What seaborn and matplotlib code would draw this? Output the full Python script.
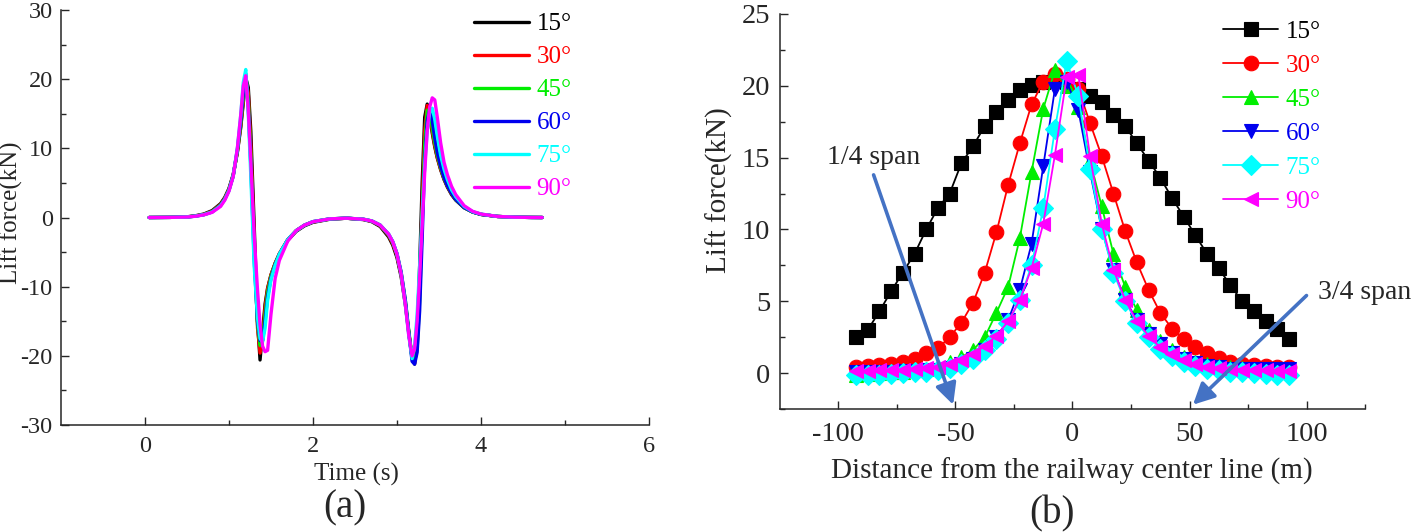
import seaborn as sns
from matplotlib import pyplot as plt
import pandas as pd

# ---- panel (a): lift force time history ----
time_s = [0.05, 0.3, 0.5, 0.6, 0.7, 0.8, 0.9, 0.95, 1.0, 1.05,
          1.1, 1.14, 1.17, 1.2, 1.23, 1.26, 1.3, 1.34, 1.37, 1.4,
          1.43, 1.46, 1.5, 1.55, 1.6, 1.7, 1.8, 1.9, 2.0, 2.2,
          2.4, 2.6, 2.7, 2.8, 2.9, 2.95, 3.0, 3.05, 3.1, 3.14,
          3.18, 3.21, 3.24, 3.27, 3.3, 3.33, 3.36, 3.39, 3.42, 3.45,
          3.48, 3.52, 3.56, 3.6, 3.65, 3.7, 3.8, 3.9, 4.0, 4.2,
          4.4, 4.6, 4.73]

lift_15 = [0.0, 0.02, 0.1, 0.25, 0.5, 1.0, 2.0, 2.9, 4.2, 6.2,
           9.4, 13.0, 16.5, 20.2, 18.8, 12.5, -1.0, -15.0, -20.6, -16.5,
           -12.5, -10.2, -8.3, -6.6, -5.3, -3.3, -2.0, -1.2, -0.7, -0.25,
           -0.1, -0.3, -0.6, -1.3, -2.8, -4.0, -5.8, -8.6, -12.6, -16.6,
           -20.3, -21.2, -17.0, -7.0, 5.0, 14.5, 16.4, 14.6, 12.2, 10.2,
           8.6, 6.9, 5.5, 4.4, 3.3, 2.5, 1.4, 0.8, 0.45, 0.15,
           0.05, 0.01, 0.0]
lift_30 = [0.0, 0.02, 0.09, 0.22, 0.45, 0.9, 1.9, 2.8, 4.1, 6.1,
           9.5, 13.3, 16.9, 20.0, 18.0, 10.5, -3.0, -16.0, -19.6, -17.5,
           -13.0, -10.3, -8.3, -6.6, -5.2, -3.2, -1.9, -1.1, -0.65, -0.22,
           -0.1, -0.28, -0.55, -1.2, -2.6, -3.8, -5.5, -8.3, -12.4, -16.6,
           -20.3, -21.0, -18.5, -10.0, 2.0, 12.5, 16.2, 15.0, 12.5, 10.4,
           8.7, 7.0, 5.6, 4.5, 3.4, 2.6, 1.45, 0.8, 0.45, 0.15,
           0.05, 0.01, 0.0]
lift_45 = [0.0, 0.02, 0.08, 0.2, 0.42, 0.85, 1.8, 2.7, 4.0, 6.0,
           9.6, 13.6, 17.4, 20.4, 17.0, 9.0, -4.5, -15.5, -18.5, -17.8,
           -14.0, -10.8, -8.5, -6.7, -5.3, -3.2, -1.9, -1.1, -0.6, -0.2,
           -0.1, -0.25, -0.5, -1.1, -2.5, -3.6, -5.3, -8.0, -12.0, -16.3,
           -20.2, -20.8, -19.0, -12.0, -0.5, 10.5, 15.5, 15.6, 13.0, 10.8,
           9.0, 7.2, 5.7, 4.6, 3.5, 2.6, 1.45, 0.8, 0.45, 0.15,
           0.05, 0.01, 0.0]
lift_60 = [0.0, 0.02, 0.08, 0.2, 0.4, 0.8, 1.75, 2.65, 3.95, 6.0,
           9.8, 14.0, 18.0, 20.8, 16.0, 7.5, -6.0, -15.0, -17.8, -17.8,
           -15.0, -11.5, -8.8, -6.8, -5.3, -3.2, -1.9, -1.1, -0.6, -0.2,
           -0.1, -0.25, -0.5, -1.1, -2.4, -3.5, -5.2, -7.9, -12.0, -16.5,
           -20.8, -21.2, -19.5, -13.5, -3.0, 8.0, 14.0, 15.6, 14.0, 11.5,
           9.4, 7.4, 5.8, 4.6, 3.5, 2.6, 1.45, 0.8, 0.45, 0.15,
           0.05, 0.01, 0.0]
lift_75 = [0.0, 0.02, 0.08, 0.2, 0.4, 0.8, 1.7, 2.6, 3.9, 6.0,
           10.0, 14.8, 19.5, 21.4, 15.0, 6.0, -7.0, -14.5, -17.5, -18.0,
           -16.0, -12.0, -9.0, -6.9, -5.3, -3.2, -1.9, -1.1, -0.6, -0.2,
           -0.1, -0.25, -0.5, -1.1, -2.4, -3.5, -5.3, -8.2, -12.6, -17.0,
           -20.4, -18.5, -14.0, -7.0, 0.5, 7.5, 12.5, 15.2, 15.8, 14.2,
           11.8, 9.0, 7.0, 5.5, 4.0, 3.0, 1.6, 0.85, 0.5, 0.15,
           0.05, 0.01, 0.0]
lift_90 = [0.0, 0.02, 0.07, 0.18, 0.38, 0.75, 1.6, 2.5, 3.8, 5.9,
           10.0, 14.8, 19.0, 20.5, 15.5, 8.0, -2.5, -10.5, -15.5, -18.6,
           -19.4, -19.2, -14.0, -8.8, -6.2, -3.4, -1.9, -1.1, -0.6, -0.2,
           -0.1, -0.25, -0.5, -1.1, -2.4, -3.5, -5.3, -8.2, -12.6, -17.0,
           -20.0, -19.0, -15.0, -8.5, -1.0, 6.5, 12.5, 16.0, 17.3, 17.0,
           14.5, 10.8, 8.0, 6.2, 4.5, 3.3, 1.7, 0.9, 0.5, 0.15,
           0.05, 0.01, 0.0]

# ---- panel (b): peak lift force along the line ----
distance_m = [-92.5, -87.5, -82.5, -77.5, -72.5, -67.5, -62.5, -57.5, -52.5, -47.5,
              -42.5, -37.5, -32.5, -27.5, -22.5, -17.5, -12.5, -7.5, -2.5, 2.5,
              7.5, 12.5, 17.5, 22.5, 27.5, 32.5, 37.5, 42.5, 47.5, 52.5,
              57.5, 62.5, 67.5, 72.5, 77.5, 82.5, 87.5, 92.5]

peak_15 = [2.5, 3.0, 4.3, 5.7, 7.0, 8.3, 10.0, 11.5, 12.5, 14.6,
           15.8, 17.2, 18.2, 19.0, 19.7, 20.05, 20.3, 20.4, 20.3, 19.8,
           19.3, 18.9, 18.0, 17.2, 16.0, 14.8, 13.6, 12.2, 10.9, 9.6,
           8.3, 7.3, 6.1, 5.0, 4.3, 3.6, 3.1, 2.4]
peak_30 = [0.45, 0.5, 0.55, 0.65, 0.8, 1.0, 1.37, 1.72, 2.5, 3.5,
           4.9, 7.0, 9.8, 13.1, 16.0, 18.7, 20.3, 20.8, 20.5, 19.8,
           17.4, 15.1, 12.5, 9.9, 7.7, 5.8, 4.2, 3.1, 2.35, 1.8,
           1.37, 1.02, 0.79, 0.65, 0.55, 0.5, 0.45, 0.45]
peak_45 = [-0.1, -0.05, 0.0, 0.05, 0.1, 0.2, 0.3, 0.45, 0.75, 1.1,
           1.6, 2.5, 4.2, 6.0, 9.4, 14.0, 18.4, 21.1, 20.0, 18.5,
           14.8, 11.6, 8.3, 6.0, 4.4, 3.0, 2.2, 1.6, 1.1, 0.8,
           0.6, 0.5, 0.4, 0.35, 0.3, 0.3, 0.3, 0.3]
peak_60 = [0.1, 0.1, 0.1, 0.1, 0.12, 0.15, 0.2, 0.25, 0.35, 0.6,
           1.0, 1.6, 2.5, 3.7, 5.8, 9.0, 14.4, 19.8, 20.3, 18.3,
           14.0, 10.0, 7.2, 5.1, 3.7, 2.7, 2.0, 1.4, 1.0, 0.7,
           0.5, 0.4, 0.3, 0.3, 0.3, 0.3, 0.3, 0.3]
peak_75 = [-0.1, -0.1, -0.1, -0.05, 0.0, 0.05, 0.1, 0.2, 0.35, 0.6,
           1.0, 1.6, 2.4, 3.5, 5.1, 7.5, 11.5, 17.0, 21.7, 19.3,
           14.2, 10.0, 7.0, 5.0, 3.5, 2.5, 1.7, 1.2, 0.8, 0.5,
           0.3, 0.2, 0.1, 0.05, 0.0, -0.05, -0.1, -0.1]
peak_90 = [0.15, 0.15, 0.2, 0.2, 0.25, 0.3, 0.35, 0.45, 0.6, 0.9,
           1.3, 1.9, 2.6, 3.6, 5.1, 7.3, 10.4, 15.2, 20.6, 20.75,
           15.1, 10.4, 7.2, 5.1, 3.6, 2.6, 1.8, 1.3, 0.9, 0.6,
           0.45, 0.35, 0.3, 0.25, 0.2, 0.2, 0.15, 0.15]

angles = ['15°', '30°', '45°', '60°', '75°', '90°']
colors = ['#000000', '#FF0000', '#00EE00', '#0000EE', '#00FFFF', '#FF00FF']
markers = ['s', 'o', '^', 'v', 'D', '<']


def style_axis(ax, fs):
    sns.despine(ax=ax)
    ax.tick_params(which='both', direction='in', labelsize=fs, width=1)
    ax.tick_params(which='major', length=6)
    ax.tick_params(which='minor', length=3.5)
    for s in ax.spines.values():
        s.set_linewidth(1.1)


def colour_legend(leg):
    for txt, c in zip(leg.get_texts(), colors):
        txt.set_color(c)


sns.set_theme(style='ticks')
plt.rcParams['font.family'] = ['Liberation Serif', 'DejaVu Serif']
plt.rcParams['axes.unicode_minus'] = False

fig = plt.figure(figsize=(14.21, 5.32), dpi=100)

# (a)
ax1 = fig.add_axes([0.0429, 0.2011, 0.4138, 0.7801])
for name, vals, c in zip(angles, [lift_15, lift_30, lift_45, lift_60, lift_75, lift_90], colors):
    df = pd.DataFrame({'t': time_s, 'f': vals})
    sns.lineplot(data=df, x='t', y='f', ax=ax1, color=c, lw=2.4,
                 label=name, sort=False, estimator=None)
ax1.set_xlim(-1, 6)
ax1.set_ylim(-30, 30)
ax1.set_xticks([0, 2, 4, 6])
ax1.set_xticks([1, 3, 5], minor=True)
ax1.set_yticks(range(-30, 31, 10))
ax1.set_yticks(range(-25, 30, 10), minor=True)
style_axis(ax1, 17.5)
ax1.tick_params(axis='x', pad=8)
ax1.tick_params(axis='y', pad=6)
ax1.set_xlabel('Time (s)', fontsize=18, va='center')
ax1.xaxis.set_label_coords(0.503, -0.12)
ax1.set_ylabel('Lift force(kN)', fontsize=18, va='center')
ax1.yaxis.set_label_coords(-0.085, 0.511)
leg1 = ax1.legend(loc='upper left', bbox_to_anchor=(0.3336, 0.976),
                  bbox_transform=fig.transFigure, frameon=False, fontsize=18,
                  handlelength=2.2, handletextpad=0.3, labelspacing=0.42,
                  borderpad=0, borderaxespad=0)
colour_legend(leg1)

# (b)
ax2 = fig.add_axes([0.5489, 0.2312, 0.4117, 0.7425])
for name, vals, c, m in zip(angles, [peak_15, peak_30, peak_45, peak_60, peak_75, peak_90],
                            colors, markers):
    df = pd.DataFrame({'d': distance_m, 'f': vals})
    sns.lineplot(data=df, x='d', y='f', ax=ax2, color=c, lw=1.3, marker=m,
                 markersize=10.5, markeredgecolor=c, markeredgewidth=0.8,
                 label=name, sort=False, estimator=None)
ax2.set_xlim(-125, 125)
ax2.set_ylim(-2.5, 25)
ax2.set_xticks([-100, -50, 0, 50, 100])
ax2.set_xticks([-75, -25, 25, 75, 125], minor=True)
ax2.set_yticks(range(0, 26, 5))
ax2.set_yticks([-2.5, 2.5, 7.5, 12.5, 17.5, 22.5], minor=True)
style_axis(ax2, 20.5)
ax2.tick_params(axis='x', pad=9)
ax2.tick_params(axis='y', pad=7)
ax2.set_xlabel('Distance from the railway center line (m)', fontsize=21, va='center')
ax2.xaxis.set_label_coords(0.499, -0.157)
ax2.set_ylabel('Lift force(kN)', fontsize=21, va='center')
ax2.yaxis.set_label_coords(-0.103, 0.554)
leg2 = ax2.legend(loc='upper left', bbox_to_anchor=(0.8607, 0.962),
                  bbox_transform=fig.transFigure, frameon=False, fontsize=18,
                  handlelength=2.2, handletextpad=0.3, labelspacing=0.46,
                  borderpad=0, borderaxespad=0)
colour_legend(leg2)

arrow_kw = dict(arrowstyle='-|>', color='#4472C4', lw=2.6, mutation_scale=32,
                shrinkA=0, shrinkB=0)
ax2.annotate('', xy=(-51, -2.2), xytext=(-85, 13.8), arrowprops=arrow_kw)
ax2.annotate('', xy=(51.5, -2.2), xytext=(100, 5.4), arrowprops=arrow_kw)
ax2.text(-104.7, 15.0, '1/4 span', fontsize=20, va='center', ha='left')
ax2.text(104.7, 5.6, '3/4 span', fontsize=20, va='center', ha='left')

fig.text(345 / 1421, 1 - 508 / 532, '(a)', fontsize=28, ha='center', va='center')
fig.text(1052 / 1421, 1 - 514 / 532, '(b)', fontsize=28, ha='center', va='center')

fig.savefig('out.png', dpi=100)
